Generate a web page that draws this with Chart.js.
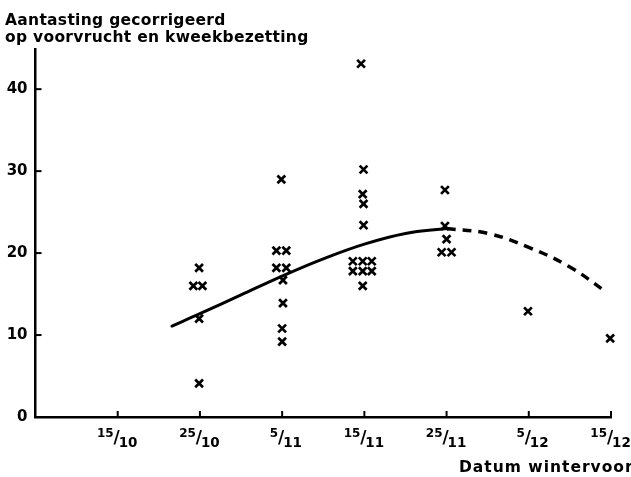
<!DOCTYPE html>
<html>
<head>
<meta charset="utf-8">
<script src="https://cdn.jsdelivr.net/npm/chart.js@4/dist/chart.umd.min.js"></script>
<style>
  html, body { margin: 0; padding: 0; background: #ffffff; }
  #wrap { width: 631px; height: 477px; position: relative; }
</style>
</head>
<body>
<div id="wrap"><canvas id="chart"></canvas></div>
<script>
// Sowing dates on the x axis, as days counted from 5/10 (10 days per step)
const tickDays = [10, 20, 30, 40, 50, 60, 70];
const tickNumerators = ['15', '25', '5', '15', '25', '5', '15'];
const tickDenominators = ['10', '10', '11', '11', '11', '12', '12'];

// Individual observations (x = day, y = corrected infestation)
const pointDays = [
  19.9, 19.2, 20.3, 19.9, 19.9,
  29.9, 29.3, 30.5, 29.3, 30.5, 30.1, 30.1, 30.0, 30.0,
  39.6, 39.9, 39.8, 39.9, 39.9, 38.6, 39.8, 40.9, 38.6, 39.8, 40.9, 39.8,
  49.8, 49.8, 50.0, 49.4, 50.6,
  59.9,
  69.9
];
const pointValues = [
  18.2, 16.0, 16.0, 12.0, 4.1,
  29.0, 20.3, 20.3, 18.2, 18.2, 16.7, 13.9, 10.8, 9.2,
  43.1, 30.2, 27.2, 26.0, 23.4, 19.0, 19.0, 19.0, 17.8, 17.8, 17.8, 16.0,
  27.7, 23.3, 21.7, 20.1, 20.1,
  12.9,
  9.6
];

// Fitted trend (solid) and its extrapolation (dashed)
const trendDays = [16.6, 20, 25, 30, 35, 40, 45, 50];
const trendValues = [11.1, 12.6, 14.9, 17.2, 19.3, 21.1, 22.4, 23.0];
const extrapDays = [50, 55, 60, 65, 69.5];
const extrapValues = [23.0, 22.4, 20.7, 18.3, 15.2];

const yTickStep = 10;
const yTitleLines = ['Aantasting gecorrigeerd', 'op voorvrucht en kweekbezetting'];
const xTitle = 'Datum wintervoor';

const zip = (xs, ys) => xs.map((x, i) => ({ x: x, y: ys[i] }));

const ink = '#000000';
const boldFont = (px) => 'bold ' + px + 'px "DejaVu Sans", sans-serif';

// Inward tick marks, fraction-style date labels and the two axis titles
const axisDecor = {
  id: 'axisDecor',
  afterDraw(chart) {
    const ctx = chart.ctx;
    const xs = chart.scales.x;
    const ys = chart.scales.y;
    const area = chart.chartArea;
    ctx.save();
    ctx.strokeStyle = ink;
    ctx.fillStyle = ink;
    ctx.lineWidth = 2;

    // tick marks pointing into the plot
    tickDays.forEach((d) => {
      const px = xs.getPixelForValue(d);
      ctx.beginPath();
      ctx.moveTo(px, area.bottom);
      ctx.lineTo(px, area.bottom - 6);
      ctx.stroke();
    });
    ys.ticks.forEach((t) => {
      if (t.value === 0) return;
      const py = ys.getPixelForValue(t.value);
      ctx.beginPath();
      ctx.moveTo(area.left, py);
      ctx.lineTo(area.left + 6, py);
      ctx.stroke();
    });

    // date labels written as small fractions
    tickDays.forEach((d, i) => {
      const px = xs.getPixelForValue(d);
      const base = area.bottom;
      ctx.font = boldFont(12);
      ctx.textAlign = 'right';
      ctx.textBaseline = 'alphabetic';
      ctx.fillText(tickNumerators[i], px - 4, base + 20);
      ctx.font = boldFont(17);
      ctx.textAlign = 'center';
      ctx.fillText('/', px - 1, base + 26);
      ctx.font = boldFont(13.5);
      ctx.textAlign = 'left';
      ctx.fillText(tickDenominators[i], px + 1, base + 30);
    });

    // titles
    ctx.textAlign = 'left';
    ctx.textBaseline = 'alphabetic';
    ctx.font = boldFont(15.5);
    ctx.letterSpacing = '0.3px';
    ctx.fillText(yTitleLines[0], 5, 25);
    ctx.fillText(yTitleLines[1], 5, 42);
    ctx.font = boldFont(15.5);
    ctx.letterSpacing = '1px';
    ctx.fillText(xTitle, 459, 472);
    ctx.restore();
  }
};

new Chart(document.getElementById('chart'), {
  type: 'scatter',
  data: {
    datasets: [
      {
        data: zip(pointDays, pointValues),
        pointStyle: 'crossRot',
        pointRadius: 5.5,
        pointHoverRadius: 5.5,
        borderColor: ink,
        backgroundColor: ink,
        pointBorderWidth: 2.7,
        showLine: false,
        clip: false
      },
      {
        data: zip(trendDays, trendValues),
        showLine: true,
        borderColor: ink,
        borderWidth: 3,
        pointRadius: 0,
        tension: 0.4,
        borderCapStyle: 'round',
        clip: false
      },
      {
        data: zip(extrapDays, extrapValues),
        showLine: true,
        borderColor: ink,
        borderWidth: 3.5,
        borderDash: [9, 7],
        pointRadius: 0,
        tension: 0.4,
        clip: false
      }
    ]
  },
  options: {
    responsive: true,
    maintainAspectRatio: false,
    devicePixelRatio: 1,
    animation: false,
    events: [],
    layout: { padding: { top: 49, right: 20, left: 0, bottom: 0 } },
    plugins: { legend: { display: false }, tooltip: { enabled: false } },
    scales: {
      x: {
        type: 'linear',
        min: 0,
        max: 70,
        grid: { display: false, drawTicks: false },
        border: { display: true, color: ink, width: 2.5 },
        ticks: { display: false },
        afterFit: (scale) => { scale.height = 60; }
      },
      y: {
        type: 'linear',
        min: 0,
        max: 44.9,
        grid: { display: false, drawTicks: false },
        border: { display: true, color: ink, width: 2.5 },
        ticks: {
          stepSize: yTickStep,
          includeBounds: false,
          color: ink,
          font: { family: '"DejaVu Sans", sans-serif', size: 15, weight: 'bold' },
          padding: 8
        },
        afterFit: (scale) => { scale.width = 35.5; }
      }
    }
  },
  plugins: [axisDecor]
});
</script>
</body>
</html>
